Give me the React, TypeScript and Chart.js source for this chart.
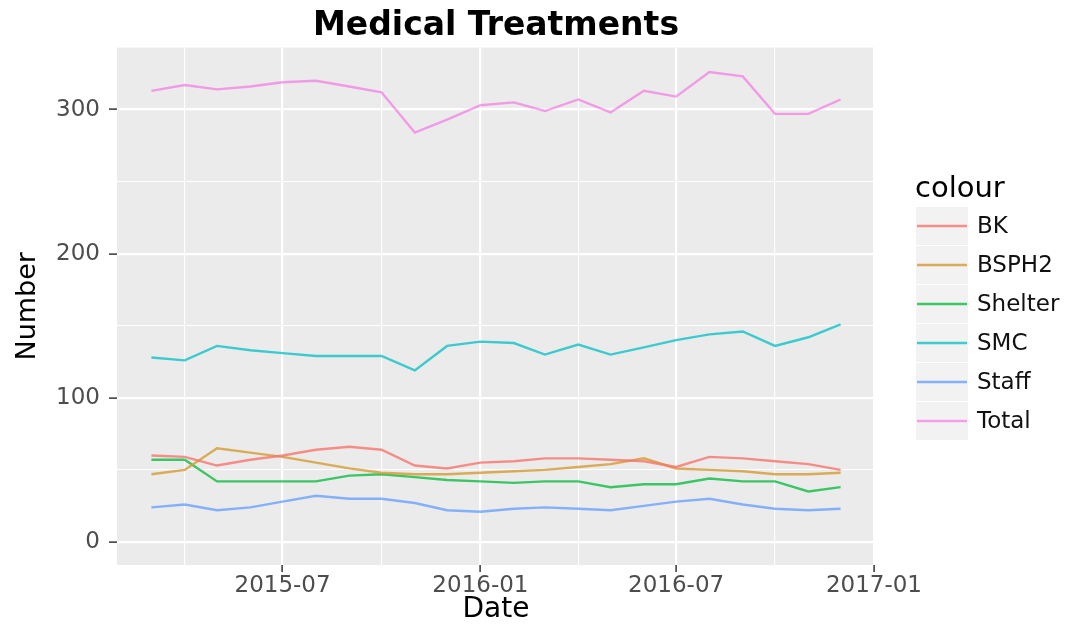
import React, { useEffect, useRef } from 'react';
import { Chart, registerables } from 'chart.js';

Chart.register(...registerables);

// ---- Data ----
const months = [
  '2015-03', '2015-04', '2015-05', '2015-06', '2015-07', '2015-08', '2015-09', '2015-10',
  '2015-11', '2015-12', '2016-01', '2016-02', '2016-03', '2016-04', '2016-05', '2016-06',
  '2016-07', '2016-08', '2016-09', '2016-10', '2016-11', '2016-12',
];

const seriesNames = ['BK', 'BSPH2', 'Shelter', 'SMC', 'Staff', 'Total'];

const bkValues = [60, 59, 53, 57, 60, 64, 66, 64, 53, 51, 55, 56, 58, 58, 57, 56, 52, 59, 58, 56, 54, 50];
const bsph2Values = [47, 50, 65, 62, 59, 55, 51, 48, 47, 47, 48, 49, 50, 52, 54, 58, 51, 50, 49, 47, 47, 48];
const shelterValues = [57, 57, 42, 42, 42, 42, 46, 47, 45, 43, 42, 41, 42, 42, 38, 40, 40, 44, 42, 42, 35, 38];
const smcValues = [128, 126, 136, 133, 131, 129, 129, 129, 119, 136, 139, 138, 130, 137, 130, 135, 140, 144, 146, 136, 142, 151];
const staffValues = [24, 26, 22, 24, 28, 32, 30, 30, 27, 22, 21, 23, 24, 23, 22, 25, 28, 30, 26, 23, 22, 23];
const totalValues = [313, 317, 314, 316, 319, 320, 316, 312, 284, 293, 303, 305, 299, 307, 298, 313, 309, 326, 323, 297, 297, 307];

const seriesColors = [
  'rgba(248,118,109,0.8)',
  'rgba(214,160,60,0.85)',
  'rgba(0,186,56,0.75)',
  'rgba(0,191,196,0.75)',
  'rgba(97,156,255,0.75)',
  'rgba(245,100,227,0.6)',
];

const xMajorTicks = ['2015-07', '2016-01', '2016-07', '2017-01'];
const xMinorTicks = ['2015-04', '2015-10', '2016-04', '2016-10'];
const xRange = ['2015-01-28', '2017-01-02'];

const yMajorTicks = [0, 100, 200, 300];
const yMinorTicks = [50, 150, 250];
const yRange = [-16, 343];

const FONT = 'DejaVu Sans';

function toTime(s: string): number {
  const parts = s.split('-').map(Number);
  return Date.UTC(parts[0], parts[1] - 1, parts[2] || 1);
}

const xMajorTimes = xMajorTicks.map(toTime);
const xMinorTimes = xMinorTicks.map(toTime);

const panelBackground = {
  id: 'panelBackground',
  beforeDraw(chart: any) {
    const { ctx, chartArea } = chart;
    if (!chartArea) return;
    ctx.save();
    ctx.fillStyle = '#EBEBEB';
    ctx.fillRect(chartArea.left, chartArea.top, chartArea.right - chartArea.left, chartArea.bottom - chartArea.top);
    ctx.restore();
  },
};

const ggLegend = {
  id: 'ggLegend',
  afterDraw(chart: any) {
    const { ctx } = chart;
    const x0 = 916;
    const keyW = 52;
    const firstY = 226;
    const step = 39;
    ctx.save();
    ctx.fillStyle = '#000000';
    ctx.textBaseline = 'middle';
    ctx.textAlign = 'left';
    ctx.font = `29px "${FONT}"`;
    ctx.fillText('colour', x0 - 1, 189);
    chart.data.datasets.forEach((ds: any, i: number) => {
      const cy = firstY + i * step;
      ctx.fillStyle = '#F2F2F2';
      ctx.fillRect(x0, cy - step / 2 + 0.5, keyW, step - 1);
      ctx.strokeStyle = ds.borderColor;
      ctx.lineWidth = ds.borderWidth;
      ctx.beginPath();
      ctx.moveTo(x0 + 1, cy);
      ctx.lineTo(x0 + keyW - 1, cy);
      ctx.stroke();
      ctx.fillStyle = '#111111';
      ctx.font = `23px "${FONT}"`;
      ctx.fillText(ds.label, x0 + keyW + 9, cy + 1);
    });
    ctx.restore();
  },
};

export default function App() {
  const canvasRef = useRef<HTMLCanvasElement | null>(null);

  useEffect(() => {
    if (!canvasRef.current) return;
    const seriesValues = [bkValues, bsph2Values, shelterValues, smcValues, staffValues, totalValues];
    const datasets = seriesNames.map((name, i) => ({
      label: name,
      data: months.map((m, j) => ({ x: toTime(m), y: seriesValues[i][j] })),
      borderColor: seriesColors[i],
      backgroundColor: seriesColors[i],
      borderWidth: 2.4,
      pointRadius: 0,
      pointHoverRadius: 0,
      tension: 0,
      fill: false,
    }));

    const chart = new Chart(canvasRef.current, {
      type: 'line',
      data: { datasets },
      plugins: [panelBackground, ggLegend],
      options: {
        animation: false,
        responsive: true,
        maintainAspectRatio: false,
        events: [],
        layout: { padding: { left: 0, right: 200, top: 0, bottom: 0 } },
        plugins: {
          legend: { display: false },
          tooltip: { enabled: false },
          title: {
            display: true,
            text: 'Medical Treatments',
            fullSize: false,
            color: '#000000',
            font: { family: FONT, size: 33, weight: 'bold' },
            padding: { top: 7, bottom: 1 },
          },
        },
        scales: {
          x: {
            type: 'linear',
            min: toTime(xRange[0]),
            max: toTime(xRange[1]),
            afterBuildTicks: (scale: any) => {
              scale.ticks = [...xMinorTimes, ...xMajorTimes].sort((a, b) => a - b).map((v) => ({ value: v }));
            },
            afterFit: (scale: any) => {
              scale.height = 60;
            },
            border: { display: false },
            grid: {
              color: '#FFFFFF',
              lineWidth: (ctx: any) => (ctx.tick && xMajorTimes.includes(ctx.tick.value) ? 2.2 : 1.1),
              tickColor: (ctx: any) => (ctx.tick && xMajorTimes.includes(ctx.tick.value) ? '#333333' : 'rgba(0,0,0,0)'),
              tickLength: 7,
              tickWidth: 1.5,
            },
            ticks: {
              autoSkip: false,
              maxRotation: 0,
              minRotation: 0,
              padding: 0,
              color: '#4D4D4D',
              font: { family: FONT, size: 23 },
              callback: (v: any) => {
                const idx = xMajorTimes.indexOf(Number(v));
                return idx >= 0 ? xMajorTicks[idx] : '';
              },
            },
            title: {
              display: true,
              text: 'Date',
              color: '#000000',
              font: { family: FONT, size: 28 },
              padding: { top: 0, bottom: -2 },
            },
          },
          y: {
            type: 'linear',
            min: yRange[0],
            max: yRange[1],
            afterBuildTicks: (scale: any) => {
              scale.ticks = [...yMajorTicks, ...yMinorTicks].sort((a, b) => a - b).map((v) => ({ value: v }));
            },
            afterFit: (scale: any) => {
              scale.width = 117;
            },
            border: { display: false },
            grid: {
              color: '#FFFFFF',
              lineWidth: (ctx: any) => (ctx.tick && yMajorTicks.includes(ctx.tick.value) ? 2.2 : 1.1),
              tickColor: (ctx: any) => (ctx.tick && yMajorTicks.includes(ctx.tick.value) ? '#333333' : 'rgba(0,0,0,0)'),
              tickLength: 8,
              tickWidth: 1.5,
            },
            ticks: {
              autoSkip: false,
              padding: 9,
              color: '#4D4D4D',
              font: { family: FONT, size: 23 },
              callback: (v: any) => (yMajorTicks.includes(Number(v)) ? String(v) : ''),
            },
            title: {
              display: true,
              text: 'Number',
              color: '#000000',
              font: { family: FONT, size: 27 },
              padding: { top: 12, bottom: 0 },
            },
          },
        },
      } as any,
    });

    return () => {
      chart.destroy();
    };
  }, []);

  return (
    <div style={{ position: 'fixed', left: 0, top: 0, width: 1075, height: 625, background: '#FFFFFF' }}>
      <canvas ref={canvasRef} />
    </div>
  );
}
